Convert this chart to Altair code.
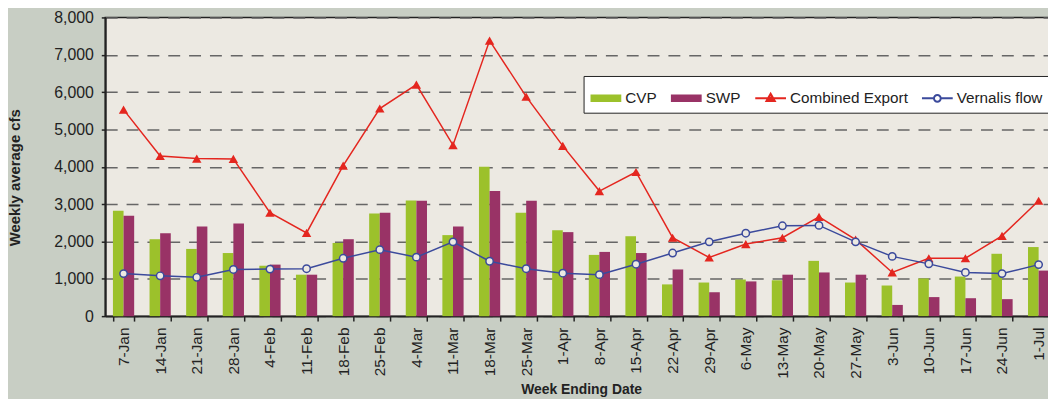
import altair as alt
import pandas as pd

weeks = ["7-Jan", "14-Jan", "21-Jan", "28-Jan", "4-Feb", "11-Feb", "18-Feb", "25-Feb",
         "4-Mar", "11-Mar", "18-Mar", "25-Mar", "1-Apr", "8-Apr", "15-Apr", "22-Apr",
         "29-Apr", "6-May", "13-May", "20-May", "27-May", "3-Jun", "10-Jun", "17-Jun",
         "24-Jun", "1-Jul"]
cvp = [2820, 2060, 1800, 1690, 1350, 1110, 1960, 2750, 3100, 2170, 4000, 2770, 2300,
       1640, 2140, 850, 900, 980, 960, 1480, 900, 820, 1010, 1060, 1670, 1850]
swp = [2690, 2220, 2400, 2480, 1380, 1110, 2060, 2770, 3090, 2400, 3350, 3090, 2250,
       1720, 1690, 1250, 640, 930, 1110, 1170, 1110, 300, 510, 480, 455, 1220]
combined_export = [5530, 4290, 4220, 4210, 2770, 2230, 4030, 5560, 6200, 4580, 7380, 5880,
                   4560, 3350, 3860, 2100, 1570, 1930, 2100, 2660, 2050, 1170, 1550, 1550,
                   2150, 3090]
vernalis_flow = [1140, 1080, 1040, 1250, 1260, 1270, 1550, 1780, 1580, 1990, 1470, 1270,
                 1150, 1110, 1390, 1690, 1990, 2220, 2420, 2430, 1990, 1600, 1400, 1170,
                 1140, 1380]

series_names = ["CVP", "SWP", "Combined Export", "Vernalis flow"]
series_colors = ["#9CC12B", "#993366", "#E4261F", "#3B4A9C"]
y_ticks = [0, 1000, 2000, 3000, 4000, 5000, 6000, 7000, 8000]

GREEN, PURPLE, RED, BLUE = series_colors
PLOT_BG = "#ECE9E2"
FONT = "Liberation Sans"

# legend swatch paths (unit square, drawn as strokes)
rect_path = "M-1,-0.18H1M-1,-0.06H1M-1,0.06H1M-1,0.18H1"
tri_path = "M-1,0H1M0,-0.3L0.27,0.17H-0.27ZM-0.17,0.08H0.17M-0.1,-0.05H0.1"
circ_path = ("M-1,0H-0.22M0.22,0H1M-0.22,0A0.22,0.22 0 1,0 0.22,0"
             "A0.22,0.22 0 1,0 -0.22,0")
legend_shapes = [rect_path, rect_path, tri_path, circ_path]

bar_df = pd.DataFrame({
    "week": weeks * 2,
    "series": ["CVP"] * len(weeks) + ["SWP"] * len(weeks),
    "value": cvp + swp,
})
line_df = pd.DataFrame({"week": weeks, "export": combined_export, "vernalis": vernalis_flow})
legend_df = pd.DataFrame({"week": [weeks[0]] * 4, "series": series_names, "value": [0] * 4})

W, H = 959, 301

x_axis = alt.Axis(
    title="Week Ending Date", labelAngle=-90, labelFont=FONT, labelFontSize=15.5,
    labelColor="#222", labelPadding=6, tickSize=5, tickColor="#222", tickWidth=1.5,
    tickBand="extent", domainColor="#222", domainWidth=2, grid=False,
    titleFont=FONT, titleFontSize=14, titleFontWeight="bold", titleColor="#222",
    titleX=W / 2, titleY=74, titleBaseline="middle",
)
x_scale = alt.Scale(paddingInner=0.42, paddingOuter=0.21)
y_scale = alt.Scale(domain=[0, 8000], nice=False)
y_axis = alt.Axis(
    title="Weekly average cfs", values=y_ticks, tickCount=20, format=",.0f", labelFont=FONT,
    labelFontSize=16, labelColor="#222", labelPadding=8, tickSize=4, tickColor="#222",
    tickWidth=1.5, domainColor="#222", domainWidth=2, grid=True, gridColor="#666666",
    gridWidth=1.5, gridDash=[12, 9], titleFont=FONT, titleFontSize=15,
    titleFontWeight="bold", titleColor="#222", titleX=-91, titleY=161,
    titleAngle=-90, titleAlign="center", titleBaseline="middle", labelOverlap=False,
)


def xe():
    return alt.X("week:N", sort=weeks, scale=x_scale, axis=x_axis)


def ye(field):
    return alt.Y(field, scale=y_scale, axis=y_axis)


bars = alt.Chart(bar_df).mark_bar().encode(
    x=xe(),
    y=ye("value:Q"),
    xOffset=alt.XOffset("series:N", sort=["CVP", "SWP"],
                        scale=alt.Scale(paddingInner=0, paddingOuter=0)),
    fill=alt.Fill("series:N", scale=alt.Scale(domain=["CVP", "SWP"], range=[GREEN, PURPLE]),
                  legend=None),
)

export_line = alt.Chart(line_df).mark_line(color=RED, strokeWidth=1.5).encode(
    x=xe(), y=ye("export:Q"))
export_pts = alt.Chart(line_df).mark_point(
    shape="triangle-up", filled=True, size=90, color=RED, opacity=1).encode(
    x=xe(), y=ye("export:Q"))

vern_line = alt.Chart(line_df).mark_line(color=BLUE, strokeWidth=1.5).encode(
    x=xe(), y=ye("vernalis:Q"))
vern_pts = alt.Chart(line_df).mark_point(
    shape="circle", filled=True, size=55, fill=PLOT_BG, stroke=BLUE, strokeWidth=1.5,
    opacity=1).encode(
    x=xe(), y=ye("vernalis:Q"))

legend_def = dict(
    orient="none", legendX=482, legendY=59, direction="horizontal", title=None,
    padding=6, strokeColor="#222", fillColor="#FFFFFF", columnPadding=10,
    labelOffset=3, symbolSize=961, symbolStrokeWidth=2, symbolOpacity=1,
    symbolFillColor="transparent", labelFont=FONT, labelFontSize=15.4,
    labelColor="#222", cornerRadius=0,
)
legend_layer = alt.Chart(legend_df).mark_point(filled=False, opacity=0).encode(
    x=xe(),
    y=ye("value:Q"),
    color=alt.Color("series:N", scale=alt.Scale(domain=series_names, range=series_colors),
                    legend=alt.Legend(**legend_def)),
    shape=alt.Shape("series:N", scale=alt.Scale(domain=series_names, range=legend_shapes),
                    legend=alt.Legend(**legend_def)),
)

chart = alt.layer(bars, export_line, vern_line, export_pts, vern_pts, legend_layer).properties(
    width=W, height=H,
    autosize=alt.AutoSizeParams(type="none"),
    padding={"left": 98, "top": 8, "right": -9, "bottom": 82},
    background="#C8CEC4",
).configure_view(
    fill=PLOT_BG, stroke="#222", strokeWidth=1.5,
)

chart.save("out.html", embed_options={"renderer": "svg", "actions": False})
